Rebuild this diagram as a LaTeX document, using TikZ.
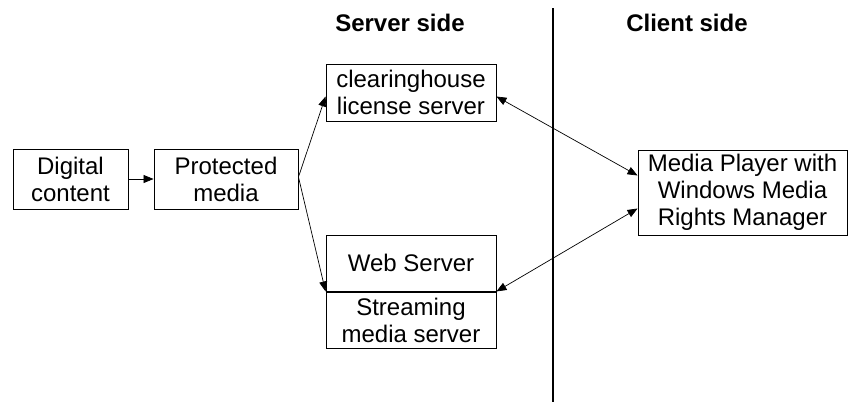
\documentclass[tikz,border=0pt]{standalone}
\usepackage{fontspec}
\setmainfont{Liberation Sans}
\usetikzlibrary{arrows.meta,positioning}
\begin{document}
\begin{tikzpicture}[x=1pt,y=-1pt,
  every node/.style={font=\fontsize{24}{27}\selectfont},
  box/.style={draw,line width=0.9pt,inner sep=0pt,align=center},
  head/.style={font=\fontsize{24}{27}\selectfont\bfseries},
  arr/.style={line width=0.7pt,-{Triangle[length=10pt,width=8pt]}},
  darr/.style={line width=0.7pt,{Triangle[length=10pt,width=8pt]}-{Triangle[length=10pt,width=8pt]}}]
\useasboundingbox (0,0) rectangle (855,402);
\node[box,minimum width=115pt,minimum height=60pt] (dc) at (70.5,179) {Digital\\content};
\node[box,minimum width=144pt,minimum height=60pt] (pm) at (226,179) {Protected\\media};
\node[box,minimum width=170pt,minimum height=57pt] (ch) at (411,92.5) {clearinghouse\\license server};
\node[box,minimum width=170pt,minimum height=56pt] (ws) at (411,263) {Web Server};
\node[box,minimum width=170pt,minimum height=56pt] (sm) at (411,320) {Streaming\\media server};
\node[box,minimum width=209pt,minimum height=85pt] (mp) at (742.5,192.5) {Media Player with\\Windows Media\\Rights Manager};
\node[head] (ss) at (400,23) {Server side};
\node[head] (cs) at (687,23) {Client side};
\coordinate (vt) at (553,8);
\coordinate (vb) at (553,402);
\draw[line width=2.5pt] (vt) -- (vb);
\draw[arr] (dc.east) -- (pm.west);
\draw[arr] ([yshift=2pt]pm.east) -- ([yshift=-4pt]ch.west);
\draw[arr] ([yshift=2pt]pm.east) -- (ws.south west);
\draw[darr] ([yshift=-4pt]ch.east) -- ([yshift=17pt]mp.west);
\draw[darr] (ws.south east) -- ([yshift=-16pt]mp.west);
\end{tikzpicture}
\end{document}
